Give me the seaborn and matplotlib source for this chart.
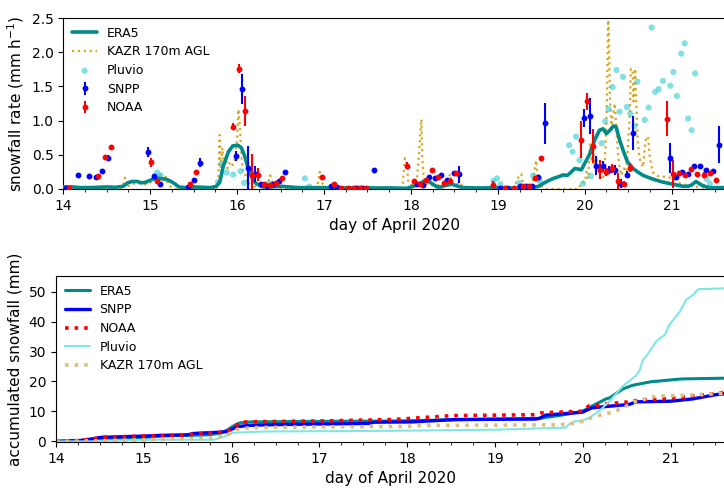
import numpy as np
import pandas as pd
import matplotlib
matplotlib.use("Agg")
import matplotlib.pyplot as plt
from matplotlib.ticker import MultipleLocator
import seaborn as sns

# ---------------- data (top panel: snowfall rate, mm/h) ----------------
era5_t = [14.00, 14.10, 14.20, 14.30, 14.40, 14.50, 14.60, 14.69, 14.74, 14.79, 14.85, 14.90, 14.95,
          15.02, 15.08, 15.14, 15.19, 15.24, 15.29, 15.33, 15.40, 15.50, 15.60, 15.70, 15.76, 15.80,
          15.84, 15.90, 15.95, 16.01, 16.05, 16.09, 16.12, 16.15, 16.18, 16.21, 16.26, 16.30, 16.40,
          16.50, 16.60, 16.70, 16.80, 16.90, 17.00, 17.20, 17.40, 17.60, 17.80, 17.95, 18.03, 18.10,
          18.18, 18.24, 18.30, 18.35, 18.39, 18.47, 18.54, 18.60, 18.80, 19.00, 19.20, 19.40, 19.47,
          19.52, 19.58, 19.64, 19.70, 19.75, 19.80, 19.83, 19.885, 19.93, 19.96, 20.00, 20.06, 20.115,
          20.17, 20.21, 20.25, 20.29, 20.33, 20.36, 20.40, 20.44, 20.49, 20.555, 20.62, 20.67, 20.75,
          20.82, 20.90, 20.98, 21.05, 21.13, 21.19, 21.23, 21.28, 21.34, 21.40, 21.44, 21.55, 21.63]
era5_v = [0.03, 0.03, 0.02, 0.02, 0.025, 0.03, 0.025, 0.04, 0.09, 0.11, 0.11, 0.09, 0.10,
          0.14, 0.16, 0.15, 0.14, 0.11, 0.07, 0.03, 0.02, 0.03, 0.025, 0.02, 0.04, 0.10,
          0.33, 0.545, 0.63, 0.64, 0.60, 0.47, 0.33, 0.23, 0.14, 0.09, 0.05, 0.03, 0.03,
          0.04, 0.03, 0.02, 0.02, 0.02, 0.02, 0.015, 0.02, 0.015, 0.015, 0.01, 0.04, 0.08,
          0.13, 0.08, 0.03, 0.03, 0.05, 0.07, 0.04, 0.02, 0.015, 0.02, 0.015, 0.02, 0.04,
          0.08, 0.12, 0.155, 0.18, 0.205, 0.20, 0.23, 0.30, 0.29, 0.28, 0.375, 0.52, 0.72,
          0.86, 0.88, 0.81, 0.86, 0.92, 0.91, 0.72, 0.57, 0.40, 0.30, 0.24, 0.20, 0.16,
          0.13, 0.10, 0.08, 0.06, 0.04, 0.04, 0.06, 0.11, 0.06, 0.03, 0.02, 0.02, 0.02]

kazr_t = [14.00, 14.40, 14.45, 14.50, 14.55, 14.60, 14.68, 14.71, 14.73, 14.78, 14.85, 14.92, 14.98,
          15.03, 15.06, 15.09, 15.12, 15.15, 15.18, 15.21, 15.26, 15.30, 15.75, 15.78, 15.80, 15.81,
          15.83, 15.85, 15.87, 15.89, 15.92, 15.95, 15.98, 16.00, 16.015, 16.03, 16.05, 16.07, 16.10,
          16.13, 16.16, 16.20, 16.30, 16.36, 16.38, 16.41, 16.45, 16.90, 16.93, 16.95, 16.97, 17.00,
          17.05, 17.90, 17.93, 17.95, 17.97, 18.02, 18.07, 18.09, 18.12, 18.13, 18.15, 18.20, 18.28,
          18.35, 18.42, 18.45, 18.47, 18.52, 18.56, 18.60, 18.90, 18.935, 18.96, 19.20, 19.215, 19.25,
          19.27, 19.29, 19.35, 19.40, 19.44, 19.46, 19.50, 19.55, 19.93, 19.965, 20.00, 20.02, 20.04,
          20.06, 20.08, 20.095, 20.11, 20.13, 20.15, 20.17, 20.19, 20.21, 20.23, 20.24, 20.255, 20.27,
          20.28, 20.29, 20.305, 20.32, 20.345, 20.36, 20.385, 20.40, 20.42, 20.45, 20.48, 20.50, 20.52,
          20.53, 20.55, 20.56, 20.58, 20.59, 20.61, 20.63, 20.67, 20.69, 20.71, 20.73, 20.75, 20.78,
          20.82, 20.86, 20.94, 21.02, 21.10, 21.20, 21.30, 21.40, 21.63]
kazr_v = [0.0, 0.0, 0.03, 0.0, 0.04, 0.0, 0.02, 0.165, 0.03, 0.07, 0.09, 0.06, 0.08,
          0.12, 0.20, 0.10, 0.21, 0.12, 0.18, 0.05, 0.02, 0.0, 0.0, 0.05, 0.79, 0.30,
          0.60, 0.35, 0.45, 0.30, 0.40, 0.35, 0.45, 0.75, 1.165, 0.94, 0.47, 0.23, 0.20,
          0.06, 0.13, 0.04, 0.02, 0.10, 0.20, 0.08, 0.02, 0.0, 0.08, 0.25, 0.10, 0.05,
          0.0, 0.0, 0.45, 0.38, 0.10, 0.05, 0.15, 0.47, 1.02, 0.45, 0.10, 0.05, 0.06,
          0.05, 0.10, 0.22, 0.08, 0.06, 0.10, 0.02, 0.0, 0.05, 0.0, 0.0, 0.13, 0.20,
          0.22, 0.08, 0.03, 0.10, 0.42, 0.15, 0.04, 0.0, 0.0, 0.10, 0.10, 0.25, 0.15,
          0.67, 0.40, 0.69, 0.35, 0.48, 0.30, 0.25, 0.15, 0.14, 0.35, 0.69, 1.28, 2.60,
          2.06, 1.35, 0.84, 1.05, 1.25, 0.94, 0.48, 0.32, 0.20, 0.30, 0.25, 0.69, 1.13,
          1.76, 1.74, 1.28, 1.76, 1.30, 0.69, 0.45, 0.32, 0.60, 0.77, 0.74, 0.45, 0.25,
          0.20, 0.18, 0.18, 0.15, 0.08, 0.05, 0.03, 0.02, 0.0]

pluvio_t = [15.08, 15.12, 15.78, 15.82, 15.88, 15.955, 16.04, 16.08, 16.36, 16.78, 16.83,
            18.95, 18.99, 19.03, 19.245, 19.405, 19.48, 19.82, 19.86, 19.90, 19.94, 19.98,
            20.07, 20.195, 20.235, 20.275, 20.32, 20.365, 20.40, 20.44, 20.485, 20.525, 20.57,
            20.605, 20.69, 20.735, 20.77, 20.81, 20.85, 20.90, 20.985, 21.02, 21.06, 21.11,
            21.15, 21.19, 21.23, 21.27, 21.40, 21.44]
pluvio_v = [0.24, 0.20, 0.10, 0.37, 0.24, 0.21, 0.26, 0.09, 0.08, 0.155, 0.035,
            0.12, 0.155, 0.07, 0.09, 0.195, 0.12, 0.64, 0.545, 0.765, 0.42, 0.08,
            0.19, 0.67, 0.99, 1.17, 1.49, 1.74, 1.13, 1.64, 1.20, 1.10, 0.92,
            1.57, 1.01, 1.19, 2.36, 1.42, 1.46, 1.58, 1.51, 1.71, 1.36, 1.98,
            2.13, 1.03, 0.86, 1.69, 0.15, 0.08]

snpp_t = [14.03, 14.17, 14.30, 14.375, 14.445, 14.51, 14.97, 15.04, 15.115, 15.43, 15.50, 15.57,
          15.99, 16.06, 16.13, 16.20, 16.27, 16.34, 16.41, 16.48, 16.55, 17.08, 17.145, 17.37,
          17.44, 17.57, 18.065, 18.135, 18.21, 18.275, 18.345, 18.41, 18.49, 18.555, 19.02, 19.10,
          19.25, 19.32, 19.39, 19.46, 19.54, 19.99, 20.065, 20.13, 20.21, 20.275, 20.345, 20.42,
          20.485, 20.555, 20.98, 21.05, 21.12, 21.19, 21.255, 21.33, 21.40, 21.47, 21.545]
snpp_v = [0.01, 0.205, 0.195, 0.18, 0.26, 0.46, 0.545, 0.195, 0.07, 0.025, 0.13, 0.385,
          0.48, 1.46, 0.31, 0.22, 0.075, 0.05, 0.08, 0.115, 0.245, 0.045, 0.03, 0.02,
          0.015, 0.28, 0.08, 0.06, 0.18, 0.155, 0.20, 0.13, 0.23, 0.215, 0.02, 0.02,
          0.05, 0.04, 0.045, 0.18, 0.96, 1.04, 1.07, 0.34, 0.34, 0.28, 0.28, 0.08,
          0.21, 0.82, 0.45, 0.18, 0.25, 0.22, 0.33, 0.33, 0.28, 0.26, 0.65]
snpp_e = [0.01, 0.02, 0.02, 0.02, 0.02, 0.03, 0.07, 0.03, 0.02, 0.01, 0.02, 0.07,
          0.07, 0.22, 0.32, 0.12, 0.03, 0.02, 0.02, 0.02, 0.02, 0.01, 0.01, 0.01,
          0.01, 0.02, 0.02, 0.02, 0.02, 0.02, 0.02, 0.02, 0.03, 0.12, 0.01, 0.01,
          0.01, 0.01, 0.01, 0.02, 0.30, 0.13, 0.26, 0.14, 0.07, 0.06, 0.07, 0.06,
          0.05, 0.25, 0.22, 0.02, 0.02, 0.02, 0.02, 0.04, 0.02, 0.02, 0.27]

noaa_t = [14.07, 14.405, 14.475, 14.55, 15.01, 15.08, 15.46, 15.53, 15.95, 16.02, 16.095, 16.17,
          16.24, 16.31, 16.375, 16.445, 16.515, 16.975, 17.115, 17.20, 17.27, 17.34, 17.41, 17.48,
          17.96, 18.03, 18.10, 18.17, 18.24, 18.315, 18.38, 18.45, 18.52, 18.94, 19.08, 19.18,
          19.29, 19.36, 19.43, 19.50, 19.955, 20.03, 20.10, 20.17, 20.24, 20.31, 20.38, 20.45,
          20.52, 20.945, 21.01, 21.08, 21.155, 21.225, 21.295, 21.37, 21.44, 21.51]
noaa_v = [0.01, 0.195, 0.47, 0.62, 0.39, 0.11, 0.08, 0.25, 0.91, 1.76, 1.14, 0.21,
          0.21, 0.08, 0.06, 0.09, 0.155, 0.18, 0.07, 0.01, 0.01, 0.01, 0.01, 0.01,
          0.34, 0.12, 0.08, 0.13, 0.28, 0.18, 0.09, 0.11, 0.24, 0.06, 0.01, 0.01,
          0.04, 0.05, 0.165, 0.45, 0.72, 1.28, 0.63, 0.28, 0.25, 0.30, 0.12, 0.07,
          0.31, 1.03, 0.22, 0.23, 0.21, 0.29, 0.22, 0.21, 0.23, 0.13]
noaa_e = [0.01, 0.02, 0.03, 0.03, 0.07, 0.02, 0.02, 0.03, 0.05, 0.07, 0.22, 0.30,
          0.10, 0.02, 0.02, 0.02, 0.02, 0.03, 0.02, 0.01, 0.01, 0.01, 0.01, 0.01,
          0.05, 0.02, 0.02, 0.02, 0.03, 0.02, 0.02, 0.02, 0.02, 0.05, 0.01, 0.01,
          0.01, 0.01, 0.03, 0.03, 0.27, 0.12, 0.25, 0.14, 0.06, 0.06, 0.12, 0.04,
          0.06, 0.25, 0.20, 0.02, 0.02, 0.02, 0.03, 0.04, 0.02, 0.02]

# ---------------- data (bottom panel: accumulated snowfall, mm) ----------------
c_era5_t = [14.0, 14.28, 14.5, 14.81, 15.0, 15.19, 15.35, 15.5, 15.75, 15.88, 15.95, 16.03, 16.1,
            16.22, 16.71, 17.82, 18.5, 19.5, 19.72, 19.99, 20.1, 20.26, 20.30, 20.45, 20.56, 20.60,
            20.79, 20.83, 21.06, 21.13, 21.63]
c_era5_v = [0.0, 0.3, 0.6, 0.9, 1.3, 1.75, 1.95, 2.0, 2.2, 2.8, 3.8, 5.3, 6.2,
            6.5, 6.65, 6.8, 7.2, 7.7, 8.6, 10.0, 11.75, 14.2, 14.5, 17.5, 18.7, 18.95,
            20.0, 20.05, 20.7, 20.85, 21.1]

c_snpp_t = [14.0, 14.28, 14.43, 14.505, 14.73, 15.0, 15.19, 15.5, 15.57, 15.88, 15.95, 16.01, 16.07,
            16.18, 16.33, 16.71, 17.55, 17.62, 18.05, 18.55, 19.45, 19.50, 19.57, 19.99, 20.1, 20.30,
            20.52, 20.60, 20.98, 21.06, 21.25, 21.51, 21.63]
c_snpp_v = [0.0, 0.3, 0.9, 1.33, 1.55, 1.77, 2.0, 2.2, 2.66, 3.1, 3.3, 4.2, 4.9,
            5.3, 5.5, 5.7, 6.0, 6.4, 6.5, 7.3, 7.45, 7.65, 8.75, 9.75, 11.2, 11.75,
            12.3, 13.2, 13.4, 13.6, 14.2, 15.6, 16.0]

c_noaa_t = [14.0, 14.28, 14.43, 14.55, 15.0, 15.5, 15.6, 15.9, 15.96, 16.03, 16.1, 16.3, 17.0,
            17.82, 18.0, 18.5, 19.45, 19.52, 19.99, 20.06, 20.26, 20.49, 20.60, 21.06, 21.63]
c_noaa_v = [0.0, 0.3, 0.9, 1.4, 1.8, 2.2, 2.5, 3.1, 3.5, 5.0, 6.4, 6.6, 6.8,
            7.3, 7.6, 8.6, 8.9, 9.5, 10.1, 11.75, 12.5, 13.1, 13.6, 14.5, 16.4]

c_pluvio_t = [14.0, 14.45, 14.55, 15.0, 15.1, 15.8, 15.87, 15.95, 16.02, 16.37, 17.85, 19.0, 19.80,
              19.85, 19.91, 19.98, 20.07, 20.18, 20.30, 20.45, 20.60, 20.64, 20.68, 20.72, 20.83,
              20.93, 20.98, 21.10, 21.17, 21.25, 21.31, 21.63]
c_pluvio_v = [0.0, 0.0, 0.3, 0.45, 0.55, 0.55, 1.2, 2.0, 2.9, 3.3, 3.55, 3.9, 4.6,
              6.0, 6.75, 6.9, 7.9, 10.1, 13.4, 18.4, 21.95, 23.5, 27.3, 28.5, 33.4,
              35.6, 38.9, 43.3, 47.2, 48.9, 50.8, 51.1]

c_kazr_t = [14.0, 14.5, 15.0, 15.25, 15.75, 15.85, 15.95, 16.06, 16.21, 16.5, 17.0, 18.0, 18.15,
            19.5, 19.72, 19.85, 19.98, 20.14, 20.26, 20.37, 20.45, 20.60, 20.83, 21.17, 21.63]
c_kazr_v = [0.0, 0.2, 0.5, 0.8, 0.9, 1.3, 2.2, 4.0, 4.55, 4.7, 4.85, 5.0, 5.3,
            5.5, 5.55, 5.8, 6.6, 8.4, 9.2, 10.1, 11.2, 13.4, 15.1, 15.4, 16.1]

xticks = [14, 15, 16, 17, 18, 19, 20, 21]

# ---------------- plotting ----------------
sns.set_theme(style="ticks")
plt.rcParams["font.family"] = ["DejaVu Sans"]
plt.rcParams["xtick.labelsize"] = 10
plt.rcParams["ytick.labelsize"] = 10
for key in ["text.color", "axes.labelcolor", "xtick.color", "ytick.color", "axes.edgecolor"]:
    plt.rcParams[key] = "black"

W, H = 724, 493
fig = plt.figure(figsize=(W / 100, H / 100), dpi=100)
ax1 = fig.add_axes([63.3 / W, 1 - 189 / H, (726 - 63.3) / W, (189 - 18) / H])
ax2 = fig.add_axes([55.8 / W, 1 - 442 / H, (726 - 55.8) / W, (442 - 276) / H])

teal = "#008b8b"
gold = "#daa520"

df_era5 = pd.DataFrame({"t": era5_t, "v": era5_v})
df_kazr = pd.DataFrame({"t": kazr_t, "v": kazr_v})
df_pluv = pd.DataFrame({"t": pluvio_t, "v": pluvio_v})

sns.lineplot(data=df_kazr, x="t", y="v", ax=ax1, color=gold, lw=1.6, linestyle=":",
             estimator=None, sort=False, label="KAZR 170m AGL", zorder=2)
sns.lineplot(data=df_era5, x="t", y="v", ax=ax1, color=teal, lw=2.6,
             estimator=None, sort=False, label="ERA5", zorder=3)
sns.scatterplot(data=df_pluv, x="t", y="v", ax=ax1, color="#40d0d8", alpha=0.65, s=20,
                edgecolor="none", label="Pluvio", zorder=2.5)
ax1.errorbar(snpp_t, snpp_v, yerr=snpp_e, fmt="o", color="blue", ms=3.2, lw=1.5,
             capsize=0, label="SNPP", zorder=4)
ax1.errorbar(noaa_t, noaa_v, yerr=noaa_e, fmt="o", color="red", ms=3.2, lw=1.5,
             capsize=0, label="NOAA", zorder=4)

h, l = ax1.get_legend_handles_labels()
order = ["ERA5", "KAZR 170m AGL", "Pluvio", "SNPP", "NOAA"]
hd = dict(zip(l, h))
ax1.legend([hd[k] for k in order], order, loc="upper left", frameon=False, fontsize=9,
           borderaxespad=0.3, handlelength=2.0, labelspacing=0.45)

ax1.set_xlim(14, 21.625)
ax1.set_ylim(0, 2.5)
ax1.set_xticks(xticks)
ax1.xaxis.set_minor_locator(MultipleLocator(0.25))
ax1.set_xlabel("day of April 2020", fontsize=11)
ax1.set_ylabel("snowfall rate (mm h$^{-1}$)", fontsize=11)

# bottom panel
c_series = [("ERA5", c_era5_t, c_era5_v, teal, "-", 2.2),
            ("SNPP", c_snpp_t, c_snpp_v, "blue", "-", 2.4),
            ("NOAA", c_noaa_t, c_noaa_v, "red", ":", 2.6),
            ("Pluvio", c_pluvio_t, c_pluvio_v, "#7ee6e6", "-", 1.5),
            ("KAZR 170m AGL", c_kazr_t, c_kazr_v, "#dcbf82", ":", 2.6)]
for name, tt, vv, col, ls, lw in c_series:
    d = pd.DataFrame({"t": tt, "v": vv})
    sns.lineplot(data=d, x="t", y="v", ax=ax2, color=col, lw=lw, linestyle=ls,
                 estimator=None, sort=False, label=name)

ax2.legend(loc="upper left", frameon=False, fontsize=9, borderaxespad=0.3, handlelength=2.0,
           labelspacing=0.45)
ax2.set_xlim(14, 21.625)
ax2.set_ylim(-0.2, 55.2)
ax2.set_xticks(xticks)
ax2.set_yticks([0, 10, 20, 30, 40, 50])
ax2.xaxis.set_minor_locator(MultipleLocator(0.25))
ax2.set_xlabel("day of April 2020", fontsize=11)
ax2.set_ylabel("accumulated snowfall (mm)", fontsize=11)

for ax in (ax1, ax2):
    ax.tick_params(which="major", length=3.5, width=0.8)
    ax.tick_params(which="minor", length=2, width=0.6)
    ax.spines["right"].set_visible(False)
    for s in ax.spines.values():
        s.set_linewidth(0.8)

fig.savefig("out.png", dpi=100)
